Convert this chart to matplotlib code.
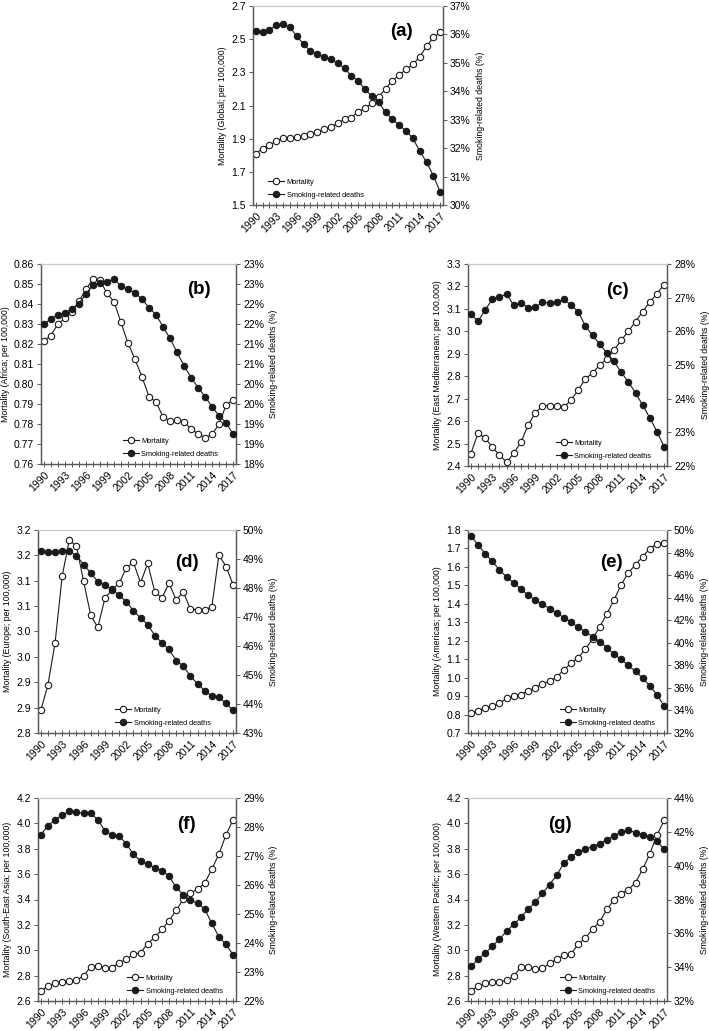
import numpy as np
import matplotlib as mpl
import matplotlib.pyplot as plt
from matplotlib.ticker import FixedLocator, FuncFormatter
from matplotlib.lines import Line2D

plt.rcParams['font.family'] = ['Liberation Sans', 'DejaVu Sans']

years = np.arange(1990, 2018)
year_labels = [1990, 1993, 1996, 1999, 2002, 2005, 2008, 2011, 2014, 2017]

# (a) Global
mort_global = [1.81, 1.84, 1.86, 1.886, 1.902, 1.906, 1.908, 1.918, 1.928, 1.942,
               1.956, 1.970, 1.992, 2.019, 2.027, 2.063, 2.083, 2.115, 2.153, 2.20,
               2.25, 2.284, 2.318, 2.348, 2.394, 2.457, 2.511, 2.541]
smok_global = [36.13, 36.07, 36.15, 36.33, 36.35, 36.25, 35.94, 35.66, 35.42, 35.30,
               35.21, 35.12, 34.98, 34.81, 34.54, 34.36, 34.07, 33.82, 33.61, 33.26,
               33.02, 32.80, 32.61, 32.34, 31.90, 31.50, 31.03, 30.45]

# (b) Africa
mort_africa = [0.8215, 0.8242, 0.830, 0.8328, 0.8358, 0.8413, 0.8473, 0.8525, 0.852, 0.8453,
               0.8412, 0.8308, 0.8205, 0.8123, 0.8035, 0.7937, 0.791, 0.7835, 0.7815, 0.7818,
               0.7812, 0.7773, 0.7752, 0.773, 0.775, 0.780, 0.7897, 0.7918]
smok_africa = [21.49, 21.63, 21.73, 21.78, 21.88, 22.01, 22.25, 22.48, 22.53, 22.55,
               22.63, 22.45, 22.37, 22.28, 22.12, 21.91, 21.73, 21.43, 21.14, 20.79,
               20.45, 20.16, 19.91, 19.68, 19.43, 19.20, 19.03, 18.74]

# (c) East Mediterranean
mort_emed = [2.455, 2.546, 2.525, 2.483, 2.449, 2.416, 2.458, 2.506, 2.582, 2.637,
             2.668, 2.669, 2.668, 2.663, 2.693, 2.739, 2.788, 2.815, 2.849, 2.878,
             2.916, 2.960, 3.000, 3.043, 3.088, 3.131, 3.168, 3.208]
smok_emed = [26.51, 26.30, 26.63, 26.96, 27.03, 27.10, 26.77, 26.85, 26.70, 26.71,
             26.87, 26.84, 26.87, 26.95, 26.78, 26.58, 26.16, 25.88, 25.62, 25.36,
             25.11, 24.78, 24.50, 24.17, 23.81, 23.43, 23.02, 22.57]

# (d) Europe
mort_europe = [2.845, 2.895, 2.978, 3.110, 3.180, 3.168, 3.099, 3.032, 3.008, 3.066,
               3.082, 3.095, 3.126, 3.136, 3.096, 3.134, 3.078, 3.066, 3.095, 3.062,
               3.078, 3.044, 3.043, 3.043, 3.048, 3.151, 3.128, 3.092]
smok_europe = [49.28, 49.25, 49.25, 49.29, 49.26, 49.12, 48.81, 48.52, 48.22, 48.10,
               47.95, 47.75, 47.52, 47.22, 46.96, 46.74, 46.36, 46.11, 45.88, 45.50,
               45.31, 44.96, 44.70, 44.46, 44.27, 44.23, 44.02, 43.78]

# (e) Americas
mort_americas = [0.808, 0.821, 0.837, 0.846, 0.860, 0.888, 0.902, 0.908, 0.929, 0.945,
                 0.967, 0.981, 1.003, 1.043, 1.077, 1.109, 1.154, 1.210, 1.275, 1.346,
                 1.421, 1.504, 1.569, 1.611, 1.656, 1.699, 1.726, 1.728]
smok_americas = [49.46, 48.70, 47.90, 47.22, 46.45, 45.83, 45.30, 44.77, 44.21, 43.80,
                 43.42, 43.03, 42.62, 42.24, 41.82, 41.38, 40.97, 40.53, 40.11, 39.58,
                 38.99, 38.52, 37.99, 37.46, 36.87, 36.19, 35.39, 34.39]

# (f) South-East Asia
mort_seasia = [2.679, 2.716, 2.742, 2.753, 2.756, 2.763, 2.797, 2.871, 2.876, 2.863,
               2.863, 2.900, 2.929, 2.969, 2.980, 3.053, 3.101, 3.164, 3.233, 3.314,
               3.401, 3.448, 3.483, 3.528, 3.639, 3.757, 3.910, 4.029]
smok_seasia = [27.74, 28.04, 28.25, 28.41, 28.54, 28.51, 28.47, 28.48, 28.25, 27.87,
               27.72, 27.69, 27.42, 27.06, 26.83, 26.71, 26.59, 26.50, 26.30, 25.92,
               25.66, 25.48, 25.37, 25.17, 24.68, 24.21, 23.95, 23.59]

# (g) Western Pacific
mort_wpac = [2.677, 2.716, 2.738, 2.748, 2.750, 2.764, 2.795, 2.869, 2.869, 2.853,
             2.858, 2.896, 2.930, 2.959, 2.972, 3.048, 3.096, 3.167, 3.225, 3.322,
             3.398, 3.446, 3.477, 3.533, 3.639, 3.760, 3.907, 4.023]
smok_wpac = [34.04, 34.46, 34.83, 35.24, 35.66, 36.13, 36.53, 36.95, 37.42, 37.85,
             38.37, 38.88, 39.45, 40.15, 40.52, 40.80, 40.98, 41.13, 41.31, 41.53,
             41.77, 42.00, 42.08, 41.96, 41.84, 41.69, 41.43, 40.98]

W, H = 709, 1031
fig = plt.figure(figsize=(W / 100, H / 100), dpi=100)

LINE = '#1a1a1a'
SPINE = '#595959'


def half_up(v, nd):
    # excel style rounding (0.5 goes up)
    f = 10 ** nd
    return np.floor(v * f + 0.5 + 1e-9) / f


def panel(box, mort, smok, region, lticks, ldec, rticks, tag, tagxy, legxy):
    l, r, t, b = box
    ax = fig.add_axes([l / W, 1 - b / H, (r - l) / W, (b - t) / H])
    ax2 = ax.twinx()

    ax.plot(years, mort, '-o', color=LINE, lw=0.8, ms=4.6, mfc='white',
            mec=LINE, mew=0.8, zorder=3)
    ax2.plot(years, smok, '-o', color=LINE, lw=0.8, ms=4.6, mfc=LINE,
             mec=LINE, mew=0.8, zorder=3)

    ax.set_xlim(1989.6, 2017.4)
    ax.set_ylim(lticks[0], lticks[-1])
    ax2.set_ylim(rticks[0], rticks[-1])

    ax.yaxis.set_major_locator(FixedLocator(lticks))
    ax.yaxis.set_major_formatter(FuncFormatter(
        lambda v, p: f"{half_up(v, ldec):.{ldec}f}"))
    ax2.yaxis.set_major_locator(FixedLocator(rticks))
    ax2.yaxis.set_major_formatter(FuncFormatter(
        lambda v, p: f"{int(half_up(v, 0))}%"))

    ax.xaxis.set_major_locator(FixedLocator(year_labels))
    ax.xaxis.set_minor_locator(FixedLocator(years))
    ax.set_xticklabels([str(y) for y in year_labels], rotation=45,
                       ha='right', rotation_mode='anchor', fontsize=7.5)

    ax.tick_params(axis='x', which='both', direction='inout', length=4,
                   width=0.7, color=SPINE, pad=2)
    ax.tick_params(axis='y', direction='out', length=3, width=0.7,
                   color=SPINE, labelsize=7.5, pad=2)
    ax2.tick_params(axis='y', direction='out', length=3, width=0.7,
                    color=SPINE, labelsize=7.5, pad=2)

    for a in (ax, ax2):
        for s in ('left', 'right', 'bottom'):
            a.spines[s].set_color(SPINE)
            a.spines[s].set_linewidth(0.9)
        a.spines['top'].set_color('#c8c8c8')
        a.spines['top'].set_linewidth(0.8)

    ax.set_ylabel(f"Mortality ({region}; per 100,000)", fontsize=6.3, labelpad=3)
    ax2.set_ylabel("Smoking-related deaths (%)", fontsize=6.3, labelpad=4)

    ax2.text(tagxy[0], tagxy[1], tag, transform=ax2.transAxes, fontsize=13.5,
             fontweight='bold', ha='center', va='center')

    handles = [Line2D([], [], color=LINE, lw=0.8, marker='o', ms=4.6,
                      mfc='white', mec=LINE, mew=0.8),
               Line2D([], [], color=LINE, lw=0.8, marker='o', ms=4.6,
                      mfc=LINE, mec=LINE, mew=0.8)]
    ax2.legend(handles, ['Mortality', 'Smoking-related deaths'],
               loc='lower left', bbox_to_anchor=legxy, frameon=False,
               fontsize=5.3, handlelength=2.2, handletextpad=0.3,
               labelspacing=0.8, borderpad=0, borderaxespad=0, numpoints=1)


panel((253, 443, 6, 205), mort_global, smok_global, 'Global',
      np.arange(1.5, 2.71, 0.2), 1, np.arange(30, 37.1, 1), '(a)',
      (0.78, 0.87), (0.08, 0.03))
panel((41, 236, 264, 464), mort_africa, smok_africa, 'Africa',
      np.arange(0.76, 0.8601, 0.01), 2, np.arange(18, 23.01, 0.5), '(b)',
      (0.81, 0.87), (0.42, 0.03))
panel((468, 667, 264, 466), mort_emed, smok_emed, 'East Mediterranean',
      np.arange(2.4, 3.301, 0.1), 1, np.arange(22, 28.1, 1), '(c)',
      (0.75, 0.87), (0.44, 0.03))
panel((38, 236, 530, 733), mort_europe, smok_europe, 'Europe',
      np.arange(2.8, 3.201, 0.05), 1, np.arange(43, 50.1, 1), '(d)',
      (0.75, 0.84), (0.39, 0.03))
panel((468, 667, 530, 733), mort_americas, smok_americas, 'Americas',
      np.arange(0.7, 1.801, 0.1), 1, np.arange(32, 50.1, 2), '(e)',
      (0.72, 0.84), (0.46, 0.03))
panel((38, 236, 798, 1001), mort_seasia, smok_seasia, 'South-East Asia',
      np.arange(2.6, 4.201, 0.2), 1, np.arange(22, 29.1, 1), '(f)',
      (0.75, 0.87), (0.45, 0.03))
panel((468, 667, 798, 1001), mort_wpac, smok_wpac, 'Western Pacific',
      np.arange(2.6, 4.201, 0.2), 1, np.arange(32, 44.1, 2), '(g)',
      (0.46, 0.87), (0.46, 0.03))

fig.savefig('out.png', dpi=100)
